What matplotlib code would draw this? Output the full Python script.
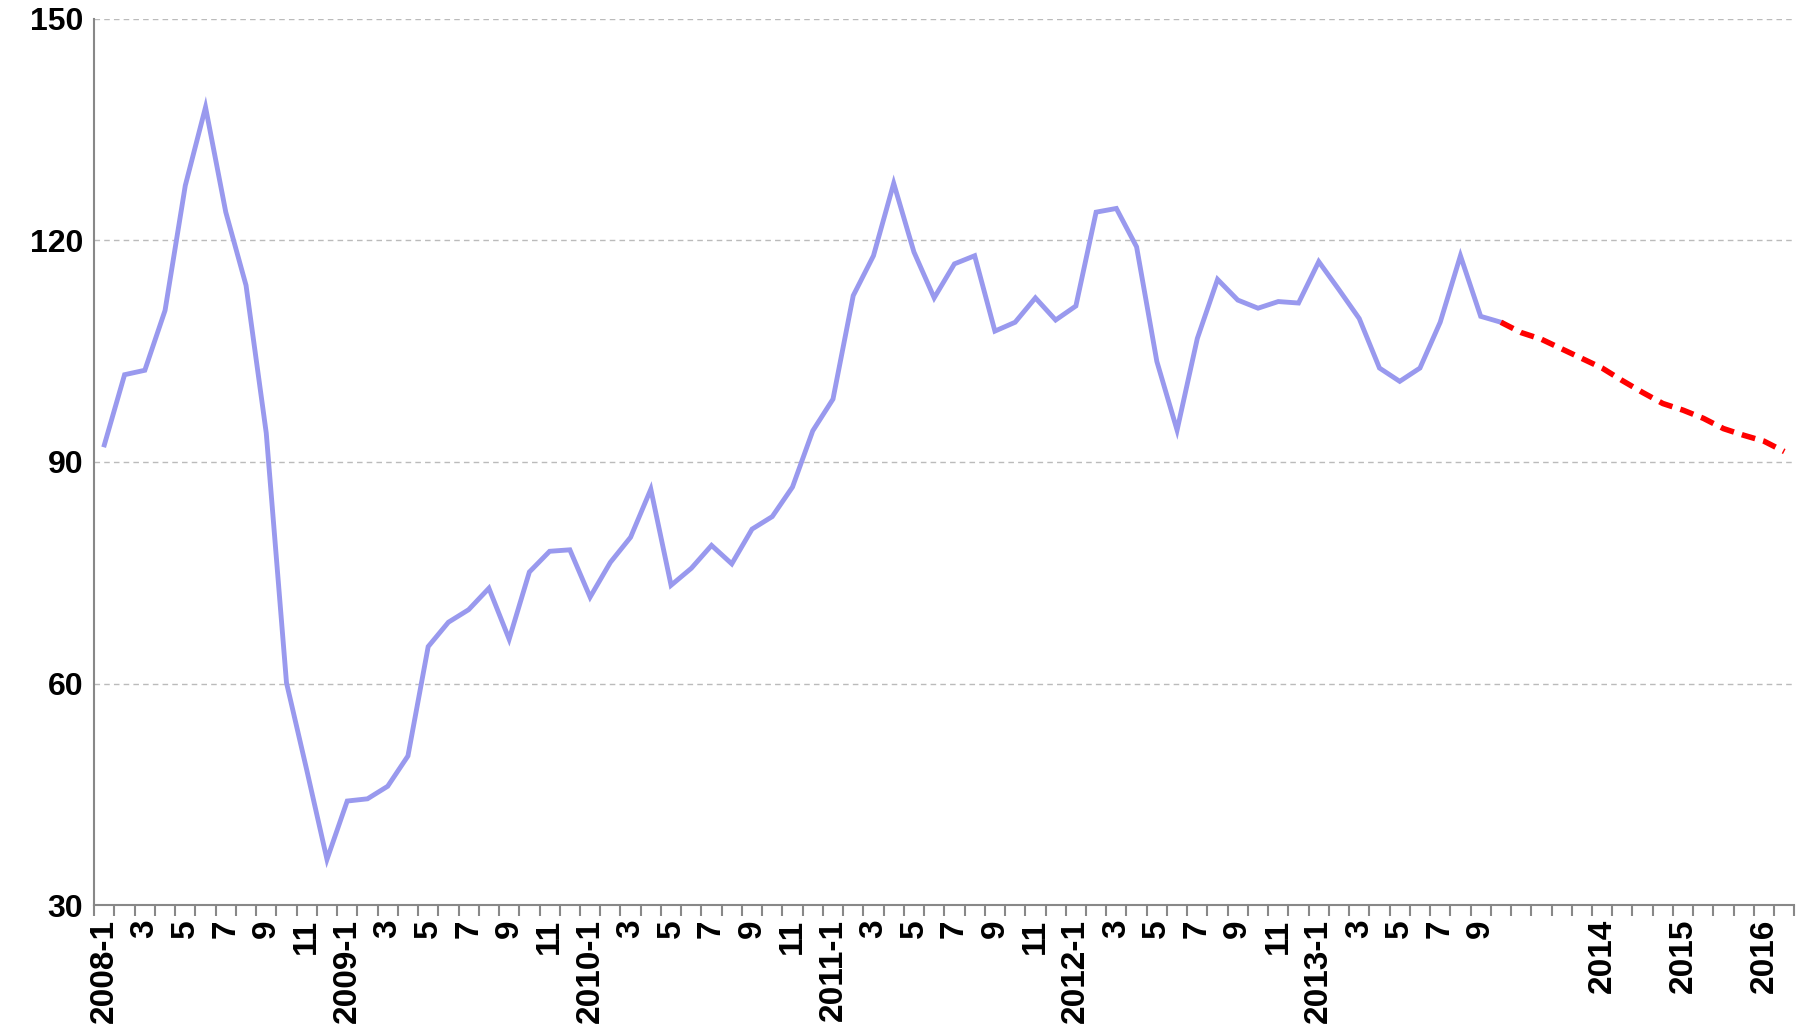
import numpy as np
import matplotlib.pyplot as plt

plt.rcParams['font.family'] = ['Liberation Sans', 'DejaVu Sans']

actual = [92.3, 101.8, 102.4, 110.5, 127.4, 138.0, 123.8, 113.9, 93.9, 60.1,
          48.3, 36.2, 44.1, 44.4, 46.1, 50.2, 65.0, 68.3, 70.0, 72.9,
          66.0, 75.1, 77.9, 78.1, 71.7, 76.4, 79.8, 86.3, 73.3, 75.6,
          78.7, 76.2, 80.9, 82.6, 86.6, 94.2, 98.5, 112.5, 117.9, 127.7,
          118.4, 112.2, 116.8, 117.9, 107.7, 108.9, 112.2, 109.2, 111.1, 123.8,
          124.3, 119.1, 103.6, 94.3, 106.7, 114.7, 111.9, 110.8, 111.7, 111.5,
          117.1, 113.3, 109.4, 102.7, 100.9, 102.7, 108.9, 117.9, 109.7, 108.9]
forecast = [108.9, 107.5, 106.6, 105.3, 104.0, 102.7, 101.0, 99.4, 97.9, 97.0,
            95.9, 94.5, 93.6, 92.8, 91.4]

labels = {}
for i in range(0, 69, 2):
    year = 2008 + i // 12
    month = i % 12 + 1
    labels[i] = f"{year}-1" if month == 1 else str(month)
labels.update({74: "2014", 78: "2015", 82: "2016"})

x_act = np.arange(len(actual))
x_fc = np.arange(len(actual) - 1, len(actual) - 1 + len(forecast))

fig = plt.figure(figsize=(17.98, 10.31), dpi=100)
ax = fig.add_axes([0.0524, 0.122, 0.9456, 0.86])
ax.plot(x_act, actual, color='#9999ee', lw=3.5, solid_joinstyle='miter')
ax.plot(x_fc, forecast, color='#ff0000', lw=4, ls=(0, (2.5, 1.5)))

ax.set_ylim(30, 150)
ax.set_yticks(range(30, 151, 30))
ax.set_xlim(-0.5, 83.5)
ax.set_xticks(np.arange(-0.5, 84, 1))
ax.set_xticklabels([])
ax.set_xticks(list(labels.keys()), minor=True)
ax.set_xticklabels(list(labels.values()), minor=True, rotation=90,
                   fontsize=24, fontweight='bold')
ax.tick_params(axis='x', which='major', length=8, color='#888888', width=1.5)
ax.tick_params(axis='x', which='minor', length=0, pad=10)
ax.tick_params(axis='y', length=0, labelsize=23, pad=8)
for t in ax.get_yticklabels():
    t.set_fontweight('bold')
ax.grid(axis='y', ls=(0, (4, 3)), color='#bbbbbb', lw=1)
for s in ['top', 'right']:
    ax.spines[s].set_visible(False)
for s in ['left', 'bottom']:
    ax.spines[s].set_color('#888888')
    ax.spines[s].set_linewidth(1.5)

fig.savefig('out.png')
